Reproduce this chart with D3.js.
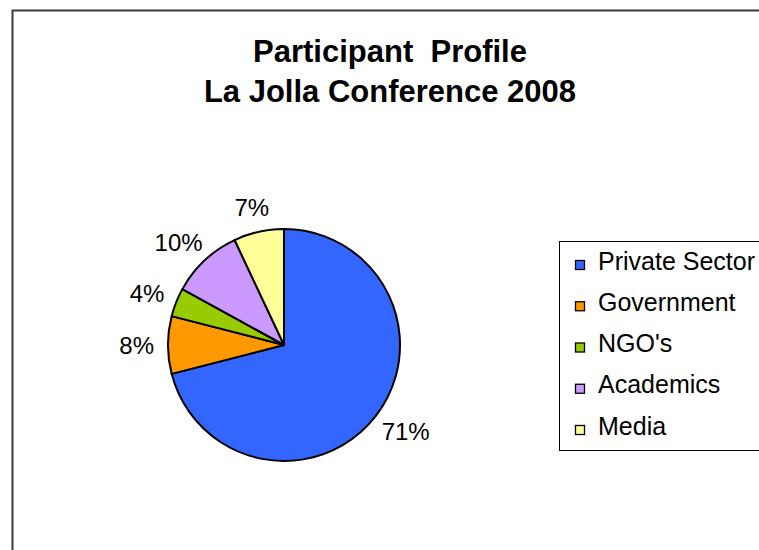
<!DOCTYPE html>
<html>
    <head>
        <script src="https://d3js.org/d3.v7.min.js"></script>
        <style>
            body { margin: 0; background: #fff; }
            text { font-family: "Liberation Sans", Arial, sans-serif; }
        </style>
    </head>
    <body>
        <script>
            // slices, clockwise from 12 o'clock
            var categories = ["Private Sector", "Government", "NGO's", "Academics", "Media"];
            var values = [71, 8, 4, 10, 7];
            var colors = ["#3366FF", "#FF9900", "#99CC00", "#CC99FF", "#FFFF99"];
            var titleLines = ["Participant  Profile", "La Jolla Conference 2008"];

            var w = 759;
            var h = 550;

            var cx = 284, cy = 345, r = 116;

            var svg = d3.select("body")
                .append("svg")
                .attr("width", w)
                .attr("height", h);

            // outer chart border (cut off at right and bottom)
            svg.append("rect")
                .attr("x", 12.5).attr("y", 10.5)
                .attr("width", 900).attr("height", 900)
                .attr("fill", "#fff")
                .attr("stroke", "#3a3a3a")
                .attr("stroke-width", 2);

            // title
            svg.append("g").selectAll("text")
                .data(titleLines)
                .enter().append("text")
                .attr("x", 390)
                .attr("y", function(d, i){ return 62 + i * 40; })
                .attr("text-anchor", "middle")
                .attr("font-size", 31)
                .attr("font-weight", "bold")
                .style("white-space", "pre")
                .text(function(d){ return d; });

            var pie = d3.pie().sort(null).value(function(d){ return d; });
            var arcs = pie(values);
            var arc = d3.arc().innerRadius(0).outerRadius(r);

            var g = svg.append("g").attr("transform", "translate(" + cx + "," + cy + ")");

            g.selectAll("path")
                .data(arcs)
                .enter().append("path")
                .attr("d", arc)
                .attr("fill", function(d, i){ return colors[i]; })
                .attr("stroke", "#000")
                .attr("stroke-width", 2)
                .attr("stroke-linejoin", "round");

            // percentage labels outside the pie
            var fs = 24;
            g.selectAll("text.lbl")
                .data(arcs)
                .enter().append("text")
                .attr("class", "lbl")
                .attr("font-size", fs)
                .attr("text-anchor", "middle")
                .text(function(d){ return d.value + "%"; })
                .each(function(d){
                    var a = (d.startAngle + d.endAngle) / 2;
                    var sx = Math.sin(a), sy = -Math.cos(a);
                    var bw = this.getComputedTextLength() / 2;
                    var px = sx * (r + 14) + sx * bw;
                    var py = sy * (r + 14) + sy * 11;
                    d3.select(this)
                        .attr("x", px)
                        .attr("y", py + fs * 0.36);
                });

            // legend
            var lg = svg.append("g");
            lg.append("rect")
                .attr("x", 559.5).attr("y", 241.5)
                .attr("width", 300).attr("height", 209)
                .attr("fill", "#fff")
                .attr("stroke", "#000")
                .attr("stroke-width", 1);

            var rows = lg.selectAll("g.row")
                .data(categories)
                .enter().append("g")
                .attr("class", "row")
                .attr("transform", function(d, i){ return "translate(0," + (265 + i * 41.25) + ")"; });

            rows.append("rect")
                .attr("x", 575.5).attr("y", -4.5)
                .attr("width", 9).attr("height", 9)
                .attr("fill", function(d, i){ return colors[i]; })
                .attr("stroke", "#000")
                .attr("stroke-width", 1.3);

            rows.append("text")
                .attr("x", 598)
                .attr("y", 4.5)
                .attr("font-size", 25)
                .text(function(d){ return d; });
        </script>
    </body>
</html>
